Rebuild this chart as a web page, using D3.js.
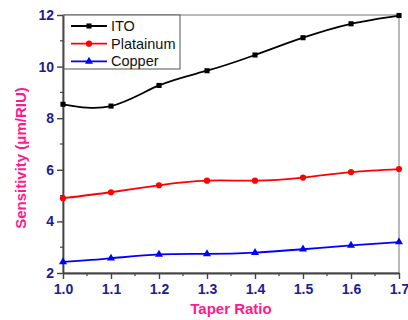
<!DOCTYPE html>
<html lang="en">
<head>
    <meta charset="UTF-8" />
    <title>Sensitivity vs Taper Ratio</title>
    <script src="https://d3js.org/d3.v7.min.js"></script>
    <style>
        body { margin: 0; background: #fff; }
    </style>
</head>
<body>
<script>
    // data
    var taperRatio = [1.0, 1.1, 1.2, 1.3, 1.4, 1.5, 1.6, 1.7];
    var ito = [8.54, 8.47, 9.27, 9.84, 10.45, 11.12, 11.66, 11.98];
    var platinum = [4.90, 5.13, 5.40, 5.58, 5.58, 5.70, 5.91, 6.03];
    var copper = [2.43, 2.57, 2.72, 2.74, 2.79, 2.92, 3.07, 3.20];
    var xTicks = [1.0, 1.1, 1.2, 1.3, 1.4, 1.5, 1.6, 1.7];
    var yTicks = [2, 4, 6, 8, 10, 12];

    var w = 408;
    var h = 320;
    // plot box (window.top is reserved, so pX names)
    var pLeft = 63, pRight = 399, pTop = 15, pBottom = 273;

    var tickColor = "#1c1c96";
    var titleColor = "#ff1a8c";

    var xScale = d3.scaleLinear().domain([1.0, 1.7]).range([pLeft, pRight]);
    var yScale = d3.scaleLinear().domain([2, 12]).range([pBottom, pTop]);

    var svg = d3.select("body").append("svg")
        .attr("width", w)
        .attr("height", h);

    // frame top + right
    svg.append("rect")
        .attr("x", pLeft).attr("y", pTop)
        .attr("width", pRight - pLeft).attr("height", pBottom - pTop)
        .attr("fill", "none")
        .attr("stroke", "#8a8a8a")
        .attr("stroke-width", 1.2);

    // minor ticks
    var xMinor = [1.05, 1.15, 1.25, 1.35, 1.45, 1.55, 1.65];
    var yMinor = [3, 5, 7, 9, 11];
    svg.selectAll(".xminor").data(xMinor).enter().append("line")
        .attr("x1", d => xScale(d)).attr("x2", d => xScale(d))
        .attr("y1", pBottom).attr("y2", pBottom + 3)
        .attr("stroke", "#444").attr("stroke-width", 1.2);
    svg.selectAll(".yminor").data(yMinor).enter().append("line")
        .attr("x1", pLeft - 3).attr("x2", pLeft)
        .attr("y1", d => yScale(d)).attr("y2", d => yScale(d))
        .attr("stroke", "#444").attr("stroke-width", 1.2);

    var xAxis = d3.axisBottom(xScale).tickValues(xTicks)
        .tickFormat(d3.format(".1f")).tickSize(6).tickSizeOuter(0).tickPadding(5);
    var yAxis = d3.axisLeft(yScale).tickValues(yTicks)
        .tickSize(6).tickSizeOuter(0).tickPadding(3);

    svg.append("g").attr("class", "x axis")
        .attr("transform", "translate(0," + pBottom + ")")
        .call(xAxis);
    svg.append("g").attr("class", "y axis")
        .attr("transform", "translate(" + pLeft + ",0)")
        .call(yAxis);

    svg.selectAll(".axis .domain").attr("stroke", "#444").attr("stroke-width", 1.8);
    svg.selectAll(".axis .tick line").attr("stroke", "#444").attr("stroke-width", 1.4);
    svg.selectAll(".axis text")
        .style("font-family", "Liberation Sans, Arial, sans-serif")
        .style("font-weight", "bold")
        .style("font-size", "14px")
        .style("fill", tickColor);

    // series
    var series = [
        { name: "ITO", values: ito, color: "#000000", shape: d3.symbolSquare, size: 26 },
        { name: "Platainum", values: platinum, color: "#ff0000", shape: d3.symbolCircle, size: 30 },
        { name: "Copper", values: copper, color: "#0000ff", shape: d3.symbolTriangle, size: 28 }
    ];

    var line = d3.line()
        .x((d, i) => xScale(taperRatio[i]))
        .y(d => yScale(d))
        .curve(d3.curveNatural);

    series.forEach(function (s, k) {
        svg.append("path")
            .datum(s.values)
            .attr("d", line)
            .attr("fill", "none")
            .attr("stroke", s.color)
            .attr("stroke-width", 1.8);

        svg.selectAll(".m" + k)
            .data(s.values)
            .enter()
            .append("path")
            .attr("class", "m" + k)
            .attr("d", d3.symbol().type(s.shape).size(s.size))
            .attr("transform", (d, i) => "translate(" + xScale(taperRatio[i]) + "," + yScale(d) + ")")
            .attr("fill", s.color);
    });

    // legend
    var legend = svg.append("g");
    legend.append("rect")
        .attr("x", 64).attr("y", 15)
        .attr("width", 116).attr("height", 54)
        .attr("fill", "#fff")
        .attr("stroke", "#555")
        .attr("stroke-width", 1);
    series.forEach(function (s, i) {
        var ly = 26 + i * 17.7;
        legend.append("line")
            .attr("x1", 71).attr("x2", 107)
            .attr("y1", ly).attr("y2", ly)
            .attr("stroke", s.color).attr("stroke-width", 1.8);
        legend.append("path")
            .attr("d", d3.symbol().type(s.shape).size(s.size))
            .attr("transform", "translate(89," + ly + ")")
            .attr("fill", s.color);
        legend.append("text")
            .attr("x", 111).attr("y", ly + 5)
            .text(s.name)
            .attr("font-family", "Liberation Sans, Arial, sans-serif")
            .attr("font-size", "14.5px")
            .attr("fill", "#111");
    });

    // axis titles
    svg.append("text")
        .attr("x", (pLeft + pRight) / 2)
        .attr("y", 314)
        .attr("text-anchor", "middle")
        .attr("font-family", "Liberation Sans, Arial, sans-serif")
        .attr("font-weight", "bold")
        .attr("font-size", "15px")
        .attr("fill", titleColor)
        .text("Taper Ratio");

    svg.append("text")
        .attr("transform", "translate(26,158) rotate(-90)")
        .attr("text-anchor", "middle")
        .attr("font-family", "Liberation Sans, Arial, sans-serif")
        .attr("font-weight", "bold")
        .attr("font-size", "15px")
        .attr("fill", titleColor)
        .text("Sensitivity (\u03bcm/RIU)");
</script>
</body>
</html>
